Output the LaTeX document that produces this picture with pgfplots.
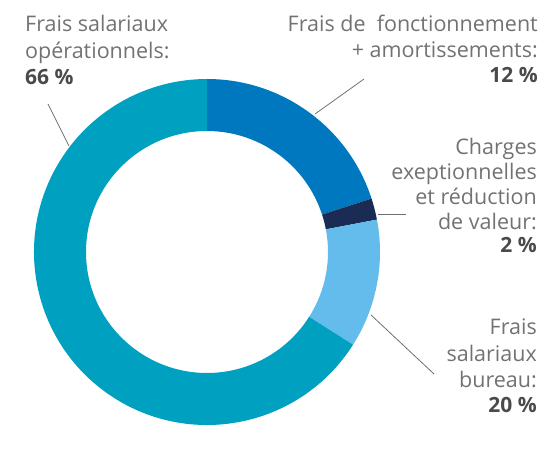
\documentclass[border=0pt]{standalone}
\usepackage{pgfplots}
\pgfplotsset{compat=1.18}
\usepackage{fontspec}
\setmainfont{Open Sans}
\definecolor{cA}{HTML}{0078BF}
\definecolor{cB}{HTML}{1A2C54}
\definecolor{cC}{HTML}{63BCEC}
\definecolor{cD}{HTML}{00A0C1}
\definecolor{txt}{HTML}{727272}
\definecolor{txtb}{HTML}{4A4A4A}
\definecolor{lead}{HTML}{707070}
\begin{document}
\begin{tikzpicture}
\begin{axis}[
  hide axis, scale only axis, x=1pt, y=1pt,
  xmin=0, xmax=547, ymin=0, ymax=428, clip=false,
]
\addplot[draw=none] coordinates {(0,0) (547,428)};
\pgfplotsextra{
  \gdef\acc{90}
  \foreach \v/\col in {20/cA, 2/cB, 12/cC, 66/cD}{
    \pgfmathsetmacro\aEnd{\acc-3.6*\v}
    \fill[\col] (axis cs:207,176) ++(\acc:173pt)
      arc[start angle=\acc, end angle=\aEnd, radius=173pt]
      -- ++(\aEnd+180:52pt)
      arc[start angle=\aEnd, end angle=\acc, radius=121pt] -- cycle;
    \xdef\acc{\aEnd}
  }
  \draw[lead, line width=0.8pt] (axis cs:315,314) -- (axis cs:364,349);
  \draw[lead, line width=0.8pt] (axis cs:378,214) -- (axis cs:406,214);
  \draw[lead, line width=0.8pt] (axis cs:371,113) -- (axis cs:434,54);
  \draw[lead, line width=0.8pt] (axis cs:48,324) -- (axis cs:69,282);
  \tikzset{tl/.style={inner sep=0pt, text=txt, font=\fontsize{21.5}{24}\selectfont},
           tb/.style={inner sep=0pt, text=txtb, font=\fontsize{21}{24}\selectfont\bfseries}}
  % left
  \node[tl, anchor=base west] at (axis cs:25,396) {Frais salariaux};
  \node[tl, anchor=base west] at (axis cs:25,369) {opérationnels:};
  \node[tb, anchor=base west] at (axis cs:25,343) {66 \%};
  % top right
  \node[tl, anchor=base east] at (axis cs:538,396) {Frais de\ \ fonctionnement};
  \node[tl, anchor=base east] at (axis cs:538,370) {+ amortissements:};
  \node[tb, anchor=base east] at (axis cs:538,345) {12 \%};
  % charges
  \node[tl, anchor=base east] at (axis cs:537,273) {Charges};
  \node[tl, anchor=base east] at (axis cs:537,248) {exeptionnelles};
  \node[tl, anchor=base east] at (axis cs:537,223) {et réduction};
  \node[tl, anchor=base east] at (axis cs:537,198) {de valeur:};
  \node[tb, anchor=base east] at (axis cs:537,175) {2 \%};
  % bureau
  \node[tl, anchor=base east] at (axis cs:537,93) {Frais};
  \node[tl, anchor=base east] at (axis cs:537,66) {salariaux};
  \node[tl, anchor=base east] at (axis cs:537,40) {bureau:};
  \node[tb, anchor=base east] at (axis cs:537,15) {20 \%};
}
\end{axis}
\end{tikzpicture}
\end{document}
